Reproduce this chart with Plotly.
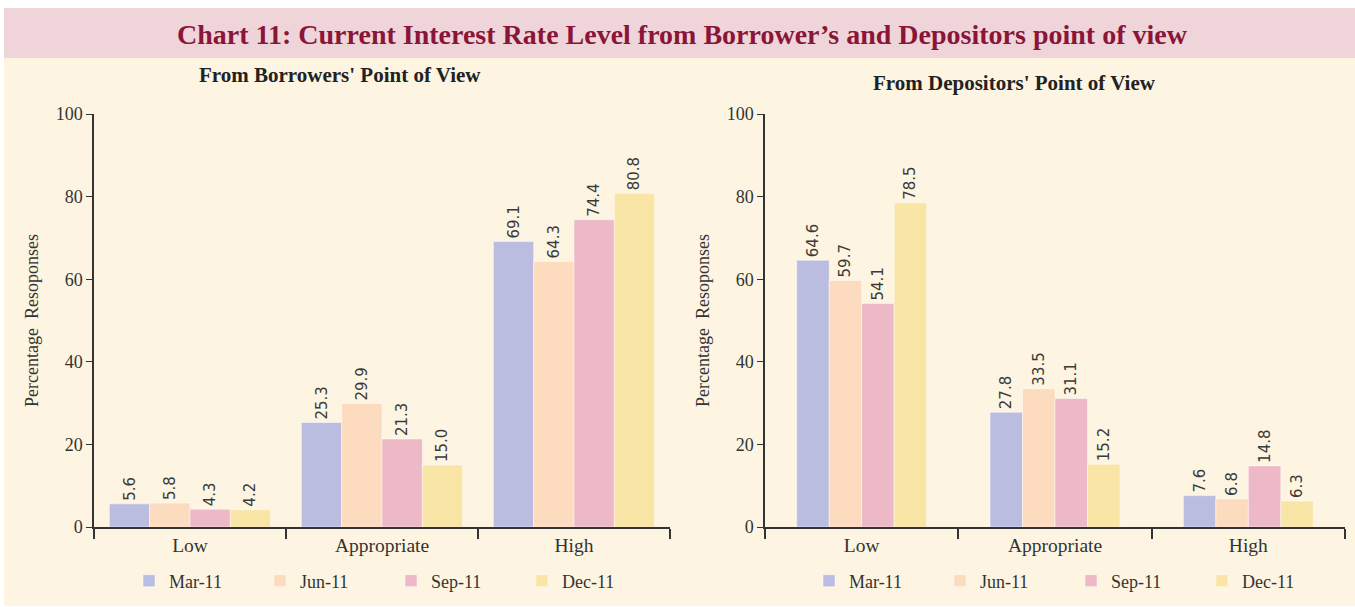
import plotly.graph_objs as go

categories = ["Low", "Appropriate", "High"]
quarters = ["Mar-11", "Jun-11", "Sep-11", "Dec-11"]

# values in percent of responses
borrowers = {
    "Mar-11": [5.6, 25.3, 69.1],
    "Jun-11": [5.8, 29.9, 64.3],
    "Sep-11": [4.3, 21.3, 74.4],
    "Dec-11": [4.2, 15.0, 80.8],
}
depositors = {
    "Mar-11": [64.6, 27.8, 7.6],
    "Jun-11": [59.7, 33.5, 6.8],
    "Sep-11": [54.1, 31.1, 14.8],
    "Dec-11": [78.5, 15.2, 6.3],
}
colors = {"Mar-11": "#BBBDE0", "Jun-11": "#FDDBBF", "Sep-11": "#EDB9C6", "Dec-11": "#F9E5A6"}

W, H = 1355, 607
SERIF = "Liberation Serif"
SANS = "DejaVu Sans"
INK = "#333333"


def px_x(v):
    return v / W


def px_y(v):
    return 1 - v / H


fig = go.Figure()

# bar width (category units) differs between the two panels
panels = [(borrowers, "x", "y", "legend", 0.21), (depositors, "x2", "y2", "legend2", 0.168)]
for data, xa, ya, leg, bw in panels:
    for i, q in enumerate(quarters):
        fig.add_trace(go.Bar(
            x=categories, y=data[q], name=q,
            xaxis=xa, yaxis=ya, legend=leg,
            width=bw, offset=-2 * bw + i * bw,
            marker=dict(color=colors[q], line=dict(color="rgba(255,255,255,0.6)", width=0.8)),
            text=[f"{v:.1f}" for v in data[q]],
            textposition="outside", textangle=-90,
            textfont=dict(family=SANS, size=15, color="#3a3a3a"),
            constraintext="none", cliponaxis=False,
        ))


def xaxis(lo, hi, anchor):
    return dict(domain=[px_x(lo), px_x(hi)], anchor=anchor, range=[-0.5, 2.5],
                showline=True, linecolor=INK, linewidth=1.5, showgrid=False, zeroline=False,
                ticks="outside", tickson="boundaries", ticklen=10, tickwidth=1.5, tickcolor=INK,
                tickfont=dict(family=SERIF, size=19.5, color=INK), automargin=False)


def yaxis(anchor):
    return dict(domain=[px_y(527), px_y(114)], anchor=anchor, range=[0, 100], dtick=20,
                showline=True, linecolor=INK, linewidth=1.5, showgrid=False, zeroline=False,
                ticks="outside", ticklen=6, tickwidth=1.2, tickcolor=INK,
                tickfont=dict(family=SERIF, size=18, color=INK), automargin=False,
                title=dict(text="Percentage\u00a0\u00a0Resoponses", standoff=12,
                           font=dict(family=SERIF, size=18, color=INK)))


def legend(x):
    return dict(orientation="h", x=px_x(x), y=px_y(581), xanchor="left", yanchor="middle",
                entrywidth=86, bgcolor="rgba(0,0,0,0)",
                font=dict(family=SERIF, size=18, color=INK))


fig.update_layout(
    width=W, height=H,
    margin=dict(l=0, r=0, t=0, b=0, autoexpand=False),
    paper_bgcolor="white", plot_bgcolor="rgba(0,0,0,0)",
    barmode="group",
    showlegend=True,
    font=dict(family=SERIF, color=INK),
    xaxis=xaxis(94, 670, "y"), yaxis=yaxis("x"),
    xaxis2=xaxis(765, 1345, "y2"), yaxis2=yaxis("x2"),
    legend=legend(129), legend2=legend(809),
)

# background bands
fig.add_shape(type="rect", xref="paper", yref="paper", layer="below",
              x0=px_x(4), x1=1, y0=px_y(606), y1=px_y(58),
              fillcolor="#FDF5E1", line=dict(width=0))
fig.add_shape(type="rect", xref="paper", yref="paper", layer="below",
              x0=px_x(4), x1=1, y0=px_y(58), y1=px_y(8),
              fillcolor="#EFD5D9", line=dict(width=0))

titles = [
    ("<b>Chart 11: Current Interest Rate Level from Borrower’s and Depositors point of view</b>",
     683, 34, 28, "#8A1538"),
    ("<b>From Borrowers' Point of View</b>", 340, 75, 21, "#222222"),
    ("<b>From Depositors' Point of View</b>", 1015, 83, 21, "#222222"),
]
for text, x, y, size, color in titles:
    fig.add_annotation(text=text, xref="paper", yref="paper", x=px_x(x), y=px_y(y),
                       xanchor="center", yanchor="middle", showarrow=False,
                       font=dict(family=SERIF, size=size, color=color))

fig.write_html("out.html", config={"displayModeBar": False},
               post_script="document.body.style.margin='0';")
